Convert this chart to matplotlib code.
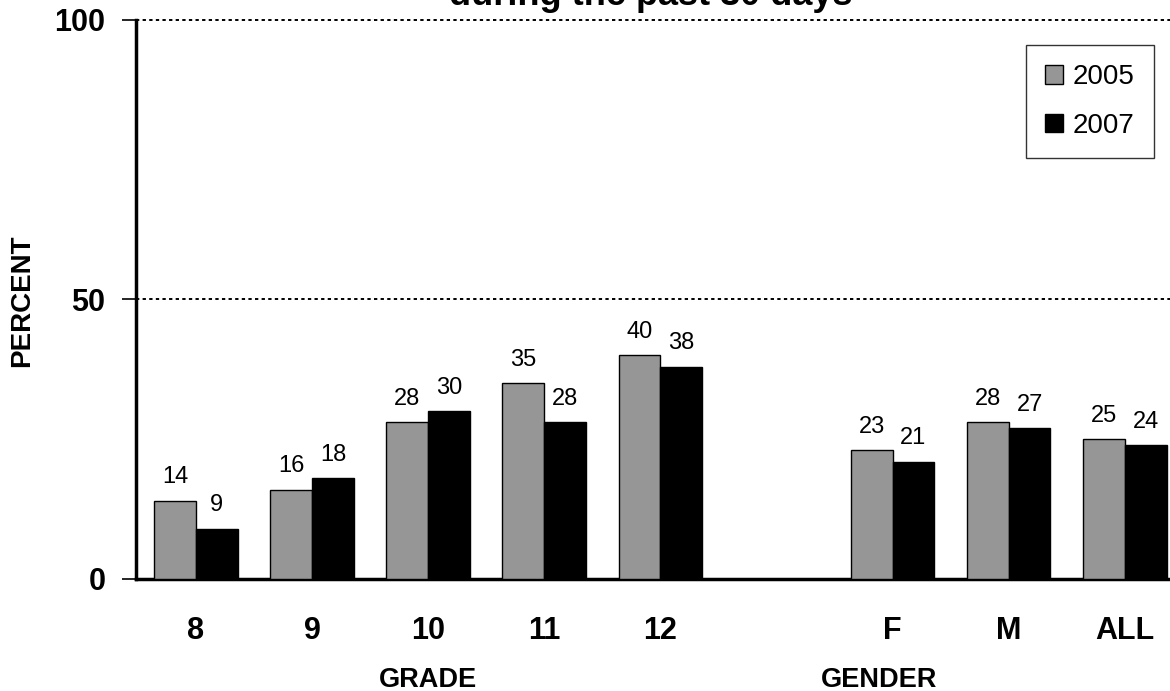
import matplotlib
matplotlib.use("Agg")
import matplotlib.pyplot as plt
import numpy as np
from matplotlib.patches import Patch

plt.rcParams['font.family'] = ['Liberation Sans', 'DejaVu Sans']

categories = ["8", "9", "10", "11", "12", "F", "M", "ALL"]
positions = [0, 1, 2, 3, 4, 6, 7, 8]
values_2005 = [14, 16, 28, 35, 40, 23, 28, 25]
values_2007 = [9, 18, 30, 28, 38, 21, 27, 24]
series_names = ["2005", "2007"]
y_ticks = [0, 50, 100]

fig = plt.figure(figsize=(11.70, 6.91), dpi=100)
ax = fig.add_axes([0.1162, 0.1621, 0.8938, 0.8090])

w = 0.36
x = np.array(positions, dtype=float)
ax.bar(x - w / 2, values_2005, width=w, color="#969696",
       edgecolor="black", linewidth=1.0, zorder=3)
ax.bar(x + w / 2, values_2007, width=w, color="black",
       edgecolor="black", linewidth=1.0, zorder=3)

for xi, v in zip(x - w / 2, values_2005):
    ax.text(xi, v + 2.2, f"{v}", ha="center", va="bottom", fontsize=17)
for xi, v in zip(x + w / 2, values_2007):
    ax.text(xi, v + 2.2, f"{v}", ha="center", va="bottom", fontsize=17)

ax.set_xlim(-0.516, 8.49)
ax.set_ylim(0, 100)

for yv in (50, 100):
    ax.axhline(yv, color="black", linestyle=(0, (1.7, 1.7)), linewidth=1.4,
               zorder=2, clip_on=False)

ax.spines["top"].set_visible(False)
ax.spines["right"].set_visible(False)
ax.spines["left"].set_linewidth(2.5)
ax.spines["bottom"].set_linewidth(2.5)

ax.set_yticks(y_ticks)
ax.set_yticklabels([str(t) for t in y_ticks], fontsize=22, fontweight="bold")
ax.tick_params(axis="y", length=10, width=1.2, pad=12)

ax.set_xticks(positions)
ax.set_xticklabels(categories, fontsize=22, fontweight="bold")
ax.tick_params(axis="x", length=0, pad=27)

fig.text(22.5 / 1170, 1 - 301 / 691, "PERCENT", rotation=90, ha="center",
         va="center", fontsize=20, fontweight="bold")

ax.text(2, -18.1, "GRADE", ha="center", va="center", fontsize=19.5,
        fontweight="bold")
ax.text(5.88, -18.1, "GENDER", ha="center", va="center", fontsize=19.5,
        fontweight="bold")

fig.text(0.5564, 1 - 5 / 691, "during the past 30 days", ha="center",
         va="baseline", fontsize=26, fontweight="bold")

handles = [Patch(facecolor="#969696", edgecolor="black", linewidth=1.0),
           Patch(facecolor="black", edgecolor="black", linewidth=1.0)]
leg = ax.legend(handles, series_names, loc="upper right",
                bbox_to_anchor=(0.9732, 0.9553), fontsize=20,
                frameon=True, fancybox=False, handlelength=0.65,
                handleheight=0.65, handletextpad=0.32, labelspacing=0.8,
                borderpad=0.7, borderaxespad=0.0)
leg.get_frame().set_edgecolor("black")
leg.get_frame().set_linewidth(1.0)

fig.savefig("out.png", dpi=100)
